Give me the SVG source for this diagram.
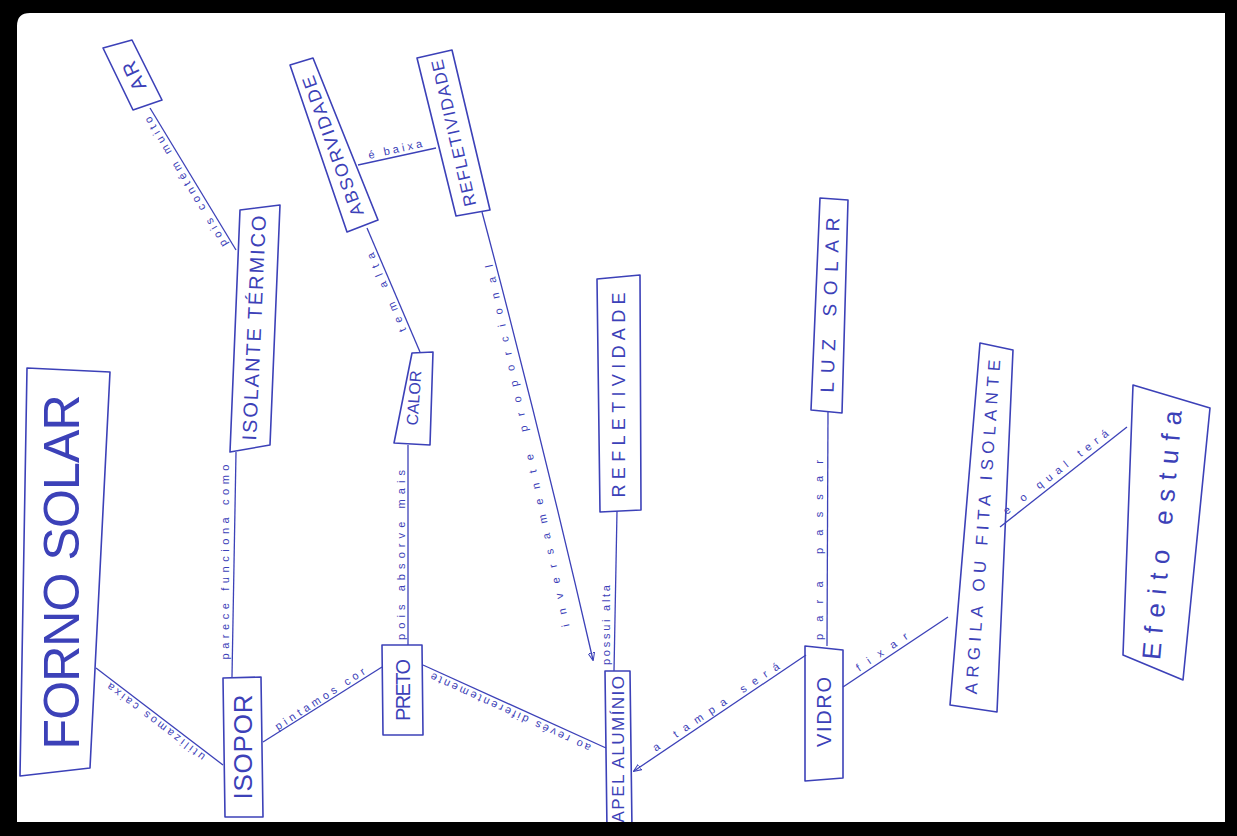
<svg xmlns="http://www.w3.org/2000/svg" width="1237" height="836" viewBox="0 0 1237 836">
<defs>
<style>
.nd{fill:none;stroke:#3c41b8;stroke-width:1.6;stroke-linejoin:round}
.nt{fill:#3c41b8;font-family:"Liberation Sans","DejaVu Sans",sans-serif;text-anchor:middle;dominant-baseline:central}
.ln{fill:none;stroke:#3c41b8;stroke-width:1.3}
.lb{fill:#3c41b8;font-family:"Liberation Sans","DejaVu Sans",sans-serif;font-size:11px;text-anchor:middle}
</style>
<marker id="arr" viewBox="0 0 10 10" refX="9" refY="5" markerWidth="8" markerHeight="8" orient="auto" markerUnits="userSpaceOnUse">
<path d="M0,1 L10,5 L0,9 Z" fill="none" stroke="#3c41b8" stroke-width="1.3"/>
</marker>
</defs>
<rect x="0" y="0" width="1237" height="836" fill="#ffffff"/>

<g id="connectors">
<line class="ln" x1="96" y1="668" x2="223" y2="765"/>
<text class="lb" transform="translate(158,719) rotate(-142.6)" textLength="120" lengthAdjust="spacing">utilizamos caixa</text>

<line class="ln" x1="232" y1="677" x2="236" y2="452"/>
<text class="lb" transform="translate(229,562) rotate(-90)" textLength="195" lengthAdjust="spacing">parece funciona como</text>

<line class="ln" x1="236" y1="250" x2="150" y2="108"/>
<text class="lb" transform="translate(189,180) rotate(-121)" textLength="150" lengthAdjust="spacing">pois contém muito</text>

<line class="ln" x1="263" y1="742" x2="382" y2="667"/>
<text class="lb" transform="translate(322,702) rotate(-33)" textLength="105" lengthAdjust="spacing">pintamos cor</text>

<line class="ln" x1="408" y1="645" x2="408" y2="445"/>
<text class="lb" transform="translate(405,555) rotate(-90)" textLength="170" lengthAdjust="spacing">pois absorve mais</text>

<line class="ln" x1="420" y1="352" x2="367" y2="228"/>
<text class="lb" transform="translate(390,291) rotate(-113)" textLength="85" lengthAdjust="spacing">tem alta</text>

<line class="ln" x1="358" y1="165" x2="436" y2="148"/>
<text class="lb" transform="translate(396,153) rotate(-12.5)" textLength="55" lengthAdjust="spacing">é baixa</text>

<path class="ln" d="M482,212 Q540,430 593,660" marker-end="url(#arr)"/>
<text class="lb" transform="translate(531,445) rotate(-102)" textLength="370" lengthAdjust="spacing">inversamente proporcional</text>

<line class="ln" x1="614" y1="671" x2="617" y2="511"/>
<text class="lb" transform="translate(610,625) rotate(-90)" textLength="80" lengthAdjust="spacing">possui alta</text>

<line class="ln" x1="423" y1="665" x2="606" y2="748"/>
<text class="lb" transform="translate(512,709) rotate(-155.5)" textLength="175" lengthAdjust="spacing">ao revés diferentemente</text>

<line class="ln" x1="806" y1="655" x2="634" y2="771" marker-end="url(#arr)"/>
<text class="lb" transform="translate(718,710) rotate(-33.8)" textLength="150" lengthAdjust="spacing">a tampa será</text>

<line class="ln" x1="827" y1="646" x2="828" y2="412"/>
<text class="lb" transform="translate(823,550) rotate(-90)" textLength="180" lengthAdjust="spacing">para passar</text>

<line class="ln" x1="843" y1="687" x2="948" y2="617"/>
<text class="lb" transform="translate(884,655) rotate(-34)" textLength="60" lengthAdjust="spacing">fixar</text>

<line class="ln" x1="1000" y1="527" x2="1127" y2="427"/>
<text class="lb" transform="translate(1058,475) rotate(-38)" textLength="130" lengthAdjust="spacing">e o qual terá</text>
</g>

<g id="forno-solar">
<polygon class="nd" points="27,368 110,372 90,768 20,776"/>
<text class="nt" transform="translate(62,572) rotate(-90)" font-size="50" textLength="355" lengthAdjust="spacing">FORNO SOLAR</text>
</g>
<g id="ar">
<polygon class="nd" points="103,48 132,40 162,100 133,110"/>
<text class="nt" transform="translate(134,76) rotate(-115)" font-size="20" textLength="30" lengthAdjust="spacing">AR</text>
</g>
<g id="isolante-termico">
<polygon class="nd" points="240,210 280,205 270,445 230,452"/>
<text class="nt" transform="translate(254,328) rotate(-87.5)" font-size="20" textLength="225" lengthAdjust="spacing">ISOLANTE TÉRMICO</text>
</g>
<g id="absorvidade">
<polygon class="nd" points="290,65 313,58 378,220 347,232"/>
<text class="nt" transform="translate(333,146) rotate(-110)" font-size="18" textLength="148" lengthAdjust="spacing">ABSORVIDADE</text>
</g>
<g id="refletividade-1">
<polygon class="nd" points="417,58 452,50 490,210 456,216"/>
<text class="nt" transform="translate(454,133) rotate(-103)" font-size="17" textLength="150" lengthAdjust="spacing">REFLETIVIDADE</text>
</g>
<g id="calor">
<polygon class="nd" points="412,353 433,352 430,445 394,443"/>
<text class="nt" transform="translate(414,398) rotate(-86)" font-size="16" textLength="55" lengthAdjust="spacing">CALOR</text>
</g>
<g id="preto">
<polygon class="nd" points="382,645 422,645 423,735 383,735"/>
<text class="nt" transform="translate(403,690) rotate(-90)" font-size="20" textLength="62" lengthAdjust="spacing">PRETO</text>
</g>
<g id="isopor">
<polygon class="nd" points="223,678 261,677 263,817 225,817"/>
<text class="nt" transform="translate(243,747) rotate(-90)" font-size="26" textLength="105" lengthAdjust="spacing">ISOPOR</text>
</g>
<g id="papel-aluminio">
<polygon class="nd" points="605,671 630,671 632,830 607,830"/>
<text class="nt" style="text-anchor:end" transform="translate(618,676) rotate(-90)" font-size="17" textLength="158" lengthAdjust="spacing">PAPEL ALUMÍNIO</text>
</g>
<g id="refletividade-2">
<polygon class="nd" points="597,279 640,275 641,510 600,512"/>
<text class="nt" transform="translate(619,395) rotate(-90)" font-size="18" textLength="205" lengthAdjust="spacing">REFLETIVIDADE</text>
</g>
<g id="luz-solar">
<polygon class="nd" points="820,198 848,200 842,413 811,410"/>
<text class="nt" transform="translate(830,305) rotate(-88)" font-size="19" textLength="175" lengthAdjust="spacing">LUZ SOLAR</text>
</g>
<g id="vidro">
<polygon class="nd" points="805,646 843,650 843,778 805,781"/>
<text class="nt" transform="translate(824,712) rotate(-90)" font-size="20" textLength="70" lengthAdjust="spacing">VIDRO</text>
</g>
<g id="argila">
<polygon class="nd" points="980,343 1013,350 997,712 950,705"/>
<text class="nt" transform="translate(983,527) rotate(-86)" font-size="17" textLength="335" lengthAdjust="spacing">ARGILA OU FITA ISOLANTE</text>
</g>
<g id="efeito-estufa">
<polygon class="nd" points="1133,385 1210,408 1183,680 1123,655"/>
<text class="nt" transform="translate(1162,535) rotate(-85)" font-size="26" textLength="250" lengthAdjust="spacing">Efeito estufa</text>
</g>

<path d="M0,0 H1237 V836 H0 Z M30,13 Q17,13 17,26 V822 H1225 V13 Z" fill="#000000" fill-rule="evenodd"/>
</svg>
